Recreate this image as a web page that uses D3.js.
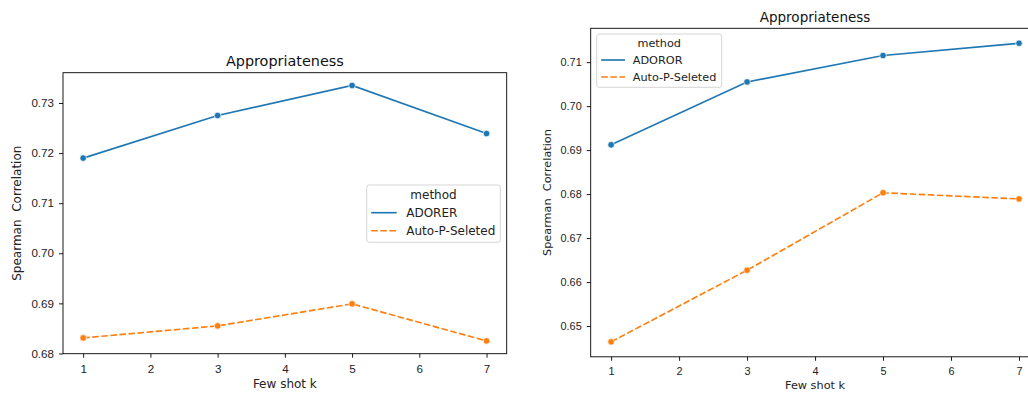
<!DOCTYPE html>
<html><head><meta charset="utf-8">
<script src="https://cdn.jsdelivr.net/npm/d3@7"></script>
<style>body{margin:0;background:#fff}svg{display:block;font-family:"DejaVu Sans",sans-serif}</style>
</head><body><svg id="c" width="1028" height="396"></svg>
<script>
const kValues = [1, 3, 5, 7];
const xTicks = [1, 2, 3, 4, 5, 6, 7];
const leftAdorer = [0.7190, 0.7275, 0.7335, 0.7239];
const leftAuto = [0.6831, 0.6855, 0.6899, 0.6825];
const leftYTicks = [0.68, 0.69, 0.70, 0.71, 0.72, 0.73];
const rightAdoror = [0.6912, 0.7055, 0.7115, 0.7143];
const rightAuto = [0.6464, 0.6627, 0.6803, 0.6789];
const rightYTicks = [0.65, 0.66, 0.67, 0.68, 0.69, 0.70, 0.71];
const seriesNamesLeft = ["ADORER", "Auto-P-Seleted"];
const seriesNamesRight = ["ADOROR", "Auto-P-Seleted"];
const colors = ["#1f77b4", "#ff7f0e"];
const titleText = "Appropriateness";
const xLabel = "Few shot k";
const yLabel = "Spearman  Correlation";
const legendTitle = "method";

const svg = d3.select("#c");

function panel(o) {
  const f = o.fs;
  const g = svg.append("g");
  const x = d3.scaleLinear().domain([0.7, 7.3]).range([o.left, o.right]);
  const all = o.series.flat();
  const mn = d3.min(all), mx = d3.max(all), pad = (mx - mn) * 0.05;
  const y = d3.scaleLinear().domain([mn - pad, mx + pad]).range([o.bottom, o.top]);

  const xa = g.append("g").attr("transform", `translate(0,${o.bottom})`)
    .call(d3.axisBottom(x).tickValues(xTicks).tickFormat(d3.format("d")).tickSize(4).tickPadding(5));
  const ya = g.append("g").attr("transform", `translate(${o.left},0)`)
    .call(d3.axisLeft(y).tickValues(o.yTicks).tickFormat(d3.format(".2f")).tickSize(4).tickPadding(5));
  [xa, ya].forEach(a => {
    a.select(".domain").remove();
    a.selectAll("line").attr("stroke", "#000").attr("stroke-width", 0.9);
    a.selectAll("text").attr("font-size", 11.6 * f).attr("fill", "#222");
  });
  xa.selectAll("text").attr("dy", "0.85em");

  const line = d3.line().x((d, i) => x(kValues[i])).y(d => y(d));
  o.series.forEach((s, si) => {
    g.append("path").datum(s).attr("d", line).attr("fill", "none")
      .attr("stroke", colors[si]).attr("stroke-width", 1.65)
      .attr("stroke-dasharray", si === 1 ? "6.6,2.5" : null);
    g.selectAll(null).data(s).enter().append("circle")
      .attr("cx", (d, i) => x(kValues[i])).attr("cy", d => y(d)).attr("r", 3.3)
      .attr("fill", colors[si]).attr("stroke", "#fff").attr("stroke-width", 0.7);
  });

  g.append("rect").attr("x", o.left).attr("y", o.top)
    .attr("width", o.right - o.left).attr("height", o.bottom - o.top)
    .attr("fill", "none").attr("stroke", "#000").attr("stroke-width", 0.9);

  g.append("text").attr("x", (o.left + o.right) / 2).attr("y", o.top - 6.5)
    .attr("text-anchor", "middle").attr("font-size", 14.4 * f).attr("fill", "#111").text(titleText);
  g.append("text").attr("x", (o.left + o.right) / 2).attr("y", o.xlabY)
    .attr("text-anchor", "middle").attr("font-size", 12 * f).attr("fill", "#222").text(xLabel);
  g.append("text").attr("transform", `translate(${o.ylabX},${(o.top + o.bottom) / 2}) rotate(-90)`)
    .attr("text-anchor", "middle").attr("font-size", 12 * f).attr("fill", "#222")
    .style("white-space", "pre").text(yLabel);

  const L = o.legend;
  const lg = g.append("g");
  lg.append("rect").attr("x", L.x).attr("y", L.y).attr("width", L.w).attr("height", L.h)
    .attr("rx", 2.5).attr("fill", "#fff").attr("fill-opacity", 0.8)
    .attr("stroke", "#d0d0d0").attr("stroke-width", 0.9);
  lg.append("text").attr("x", L.x + L.w / 2).attr("y", L.y + 14 * f)
    .attr("text-anchor", "middle").attr("font-size", 12 * f).attr("fill", "#222").text(legendTitle);
  o.names.forEach((n, i) => {
    const yy = L.y + L.row0 + i * L.step;
    lg.append("line").attr("x1", L.x + 4.5).attr("x2", L.x + L.lineEnd).attr("y1", yy).attr("y2", yy)
      .attr("stroke", colors[i]).attr("stroke-width", 1.65)
      .attr("stroke-dasharray", i === 1 ? "6.6,2.5" : null);
    lg.append("text").attr("x", L.x + L.textX).attr("y", yy + 4.3 * f).attr("font-size", 12 * f)
      .attr("fill", "#222").text(n);
  });
}

panel({left: 63, right: 506.7, top: 72.7, bottom: 353.7, fs: 1,
  series: [leftAdorer, leftAuto], yTicks: leftYTicks, names: seriesNamesLeft,
  xlabY: 387.5, ylabX: 20.5,
  legend: {x: 366.7, y: 185, w: 133.6, h: 57.3, row0: 27.7, step: 18, lineEnd: 30, textX: 39.5}});
panel({left: 590.7, right: 1039.4, top: 28.3, bottom: 356.8, fs: 0.94,
  series: [rightAdoror, rightAuto], yTicks: rightYTicks, names: seriesNamesRight,
  xlabY: 389, ylabX: 551,
  legend: {x: 596.7, y: 34, w: 125, h: 53.3, row0: 26, step: 17, lineEnd: 28.3, textX: 36}});
</script></body></html>
